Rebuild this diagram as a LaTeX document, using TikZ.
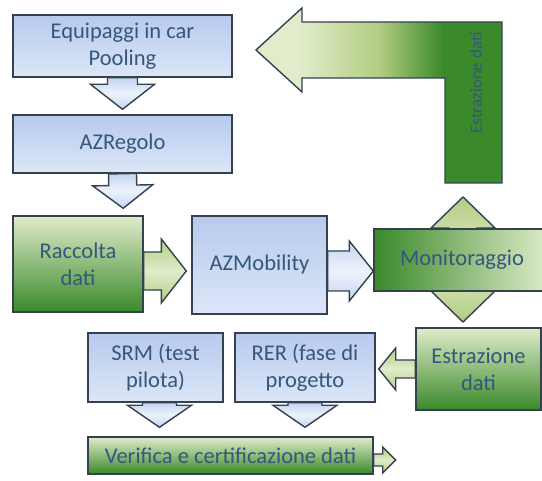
\documentclass[tikz,border=0pt]{standalone}
\usepackage{fontspec}
\setmainfont{Carlito}
\usepackage{tikz}
\usetikzlibrary{calc}
\definecolor{EdgeSlate}{HTML}{34414F}
\definecolor{InkBlue}{HTML}{34577D}
\definecolor{PaleBlue}{HTML}{DCE6F7}
\definecolor{SkyBlue}{HTML}{B7CAED}
\definecolor{ArrowBlue}{HTML}{C3D5F1}
\definecolor{LeafDark}{HTML}{3A892A}
\definecolor{LeafMid}{HTML}{B3CD82}
\definecolor{LeafLight}{HTML}{E0ECCA}
\pgfdeclarehorizontalshading{bentbar}{100bp}{color(0bp)=(LeafLight); color(34bp)=(LeafLight);
  color(50bp)=(LeafMid); color(63bp)=(LeafDark); color(100bp)=(LeafDark)}

% block arrow: [style]{from}{to}{shaft half width}{head half width}{head length}
\newcommand{\blockarrow}[6][]{%
  \path (#2) coordinate (ba-s) (#3) coordinate (ba-e);
  \coordinate (ba-h) at ($(ba-e)!#6!(ba-s)$);
  \draw[#1] ($(ba-s)!#4!90:(ba-e)$) -- ($(ba-h)!#4!90:(ba-e)$) -- ($(ba-h)!#5!90:(ba-e)$)
    -- (ba-e) -- ($(ba-h)!#5!-90:(ba-e)$) -- ($(ba-h)!#4!-90:(ba-e)$) -- ($(ba-s)!#4!-90:(ba-e)$) -- cycle;
}

\begin{document}
\begin{tikzpicture}[x=1pt,y=-1pt,
    box/.style={draw=EdgeSlate,line width=1.4pt,text=InkBlue,align=center,inner sep=0pt,
      font=\fontsize{22.5}{27}\selectfont},
    bluebox/.style={box,top color=SkyBlue,bottom color=PaleBlue},
    greenbox/.style={box,top color=LeafLight,bottom color=LeafDark},
    bluearrow/.style={draw=EdgeSlate,line width=1.4pt,top color=ArrowBlue,bottom color=ArrowBlue,middle color=PaleBlue!50},
    greenarrow/.style={draw=EdgeSlate,line width=1.4pt,top color=LeafMid,bottom color=LeafMid,middle color=LeafLight}]
  \path[use as bounding box,clip] (0,0) rectangle (542,481);

  % bent arrow, top right
  \shadedraw[shading=bentbar,draw=EdgeSlate,line width=1.4pt]
    (256,50) -- (302,8) -- (302,22) -- (502,22) -- (502,183) -- (445,183) -- (445,78) -- (302,78) -- (302,92) -- cycle;
  \node[text=InkBlue,rotate=90,font=\fontsize{17}{20}\selectfont] (estr) at (476,83) {Estrazione dati};

  % double arrow behind Monitoraggio
  \draw[greenarrow] (463,197) -- (495,228) -- (477,228) -- (477,291) -- (495,291) -- (463,322)
    -- (431,291) -- (449,291) -- (449,228) -- (431,228) -- cycle;

  \node[bluebox,minimum width=219pt,minimum height=62pt] (eq) at (122.5,46) {Equipaggi in car\\Pooling};
  \node[bluebox,minimum width=219pt,minimum height=58pt] (reg) at (122.5,144) {AZRegolo};
  \node[greenbox,minimum width=130pt,minimum height=96pt] (rac) at (78,264) {Raccolta\\dati};
  \node[bluebox,minimum width=135pt,minimum height=98pt] (mob) at (259.5,265) {AZMobility};
  \node[box,left color=LeafDark,right color=LeafLight,minimum width=176pt,minimum height=62pt] (mon) at (462,260) {Monitoraggio};
  \node[greenbox,minimum width=125pt,minimum height=82pt] (ext) at (478.5,369) {Estrazione\\dati};
  \node[bluebox,minimum width=135pt,minimum height=69pt] (srm) at (155.5,367.5) {SRM (test\\pilota)};
  \node[bluebox,minimum width=140pt,minimum height=69pt] (rer) at (305,367.5) {RER (fase di\\progetto};
  \node[greenbox,minimum width=285pt,minimum height=37pt] (ver) at (230.5,455.5) {Verifica e certificazione dati};

  \blockarrow[bluearrow]{eq.south}{$(reg.north)+(0,-5)$}{15pt}{32pt}{25pt}
  \blockarrow[bluearrow]{reg.south}{$(rac.north east)+(-20.5,-7)$}{14pt}{30pt}{23pt}
  \blockarrow[greenarrow]{$(rac.east)+(0,7)$}{$(mob.west)+(-5,6)$}{19pt}{32pt}{25pt}
  \blockarrow[bluearrow]{$(mob.east)+(0,6)$}{$(mon.west)+(0,11)$}{20pt}{30pt}{24pt}
  \blockarrow[greenarrow]{ext.west}{$(rer.east)+(3,1.5)$}{9pt}{21pt}{17pt}
  \blockarrow[bluearrow]{$(srm.south)+(4,0)$}{$(ver.north)+(-71,-9)$}{17pt}{32pt}{22pt}
  \blockarrow[bluearrow]{rer.south}{$(ver.north)+(74.5,-9)$}{17pt}{32pt}{22pt}
  \blockarrow[greenarrow]{$(ver.east)+(0,4.5)$}{$(ver.east)+(22,4.5)$}{6pt}{13pt}{13pt}
\end{tikzpicture}
\end{document}
